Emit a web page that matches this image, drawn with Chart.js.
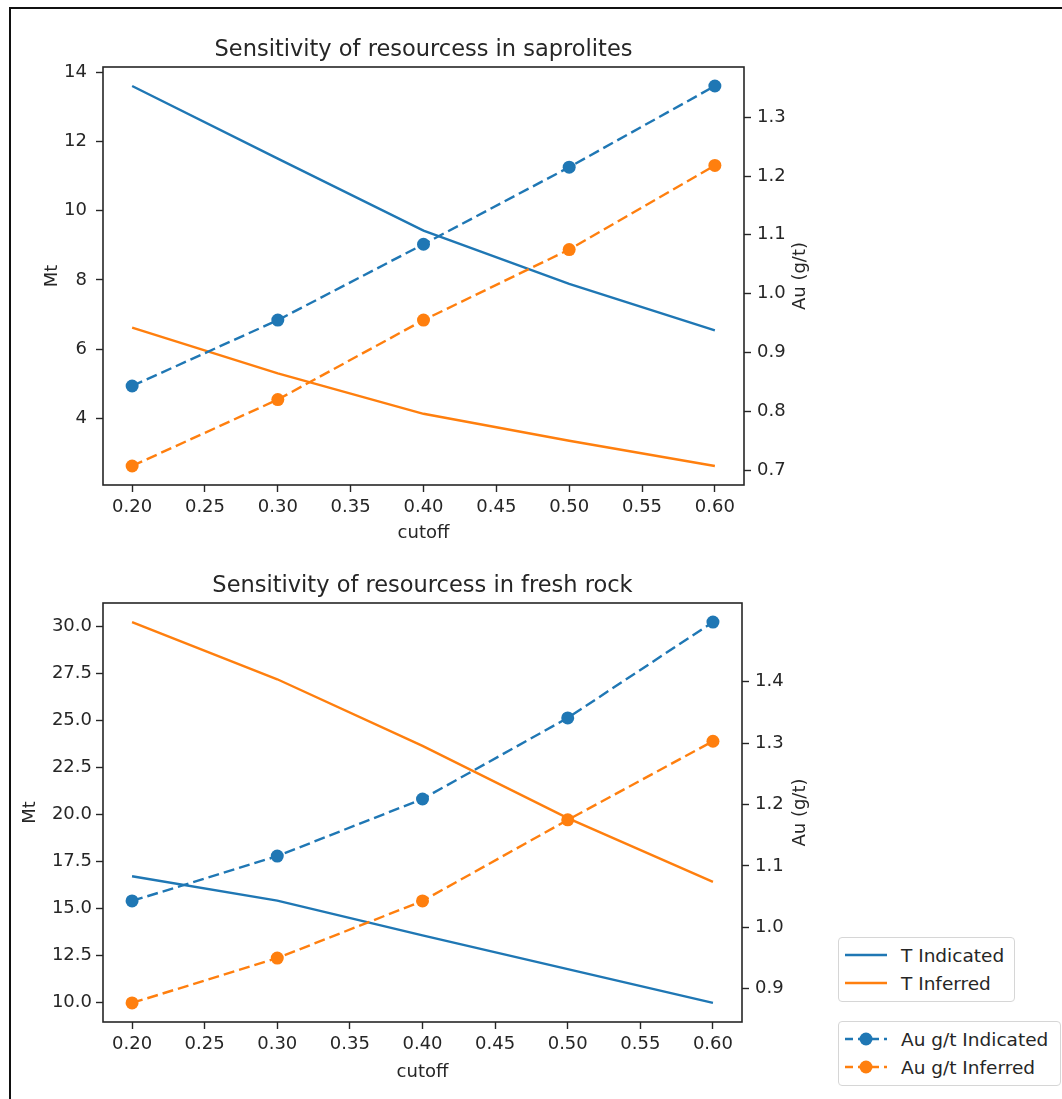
<!DOCTYPE html>
<html>
<head>
<meta charset="utf-8">
<title>Sensitivity of resources</title>
<script src="https://cdn.jsdelivr.net/npm/chart.js@4.4.0/dist/chart.umd.min.js"></script>
<style>
  body { margin: 0; background: #fff; }
  #page { position: relative; width: 1062px; height: 1099px; overflow: hidden; background: #fff; }
  #frame { position: absolute; left: 9px; top: 7px; width: 1200px; height: 1200px;
           border-left: 2px solid #111; border-top: 2px solid #111; }
  .panel { position: absolute; left: 0; }
  #top { top: 0; }
  #bottom { top: 545px; }
  .legend { position: absolute; background: #fff; border: 1px solid #d6d6d6; border-radius: 4px;
            font-family: 'DejaVu Sans', sans-serif; font-size: 18.5px; color: #262626; }
  .legend .row { position: absolute; left: 6px; height: 26px; display: flex; align-items: center; white-space: nowrap; }
  .legend svg { margin-right: 14px; }
</style>
</head>
<body>
<div id="page">
  <div id="frame"></div>
  <div class="panel" id="top"><canvas id="saproChart" width="1062" height="545"></canvas></div>
  <div class="panel" id="bottom"><canvas id="freshChart" width="1062" height="554"></canvas></div>
  <div class="legend" id="legendT" style="left:838px; top:937px; width:175px; height:63px;"></div>
  <div class="legend" id="legendAu" style="left:838px; top:1021px; width:221px; height:63px;"></div>
</div>
<script>
const cutoff = [0.20, 0.30, 0.40, 0.50, 0.60];

// saprolites: tonnage (Mt) and grade (g/t)
const saproTIndicated = [13.61, 11.51, 9.43, 7.89, 6.54];
const saproTInferred = [6.62, 5.30, 4.13, 3.35, 2.62];
const saproAuIndicated = [0.843, 0.955, 1.084, 1.215, 1.353];
const saproAuInferred = [0.707, 0.820, 0.955, 1.075, 1.218];

// fresh rock
const freshTIndicated = [16.70, 15.40, 13.55, 11.75, 9.95];
const freshTInferred = [30.25, 27.20, 23.65, 19.80, 16.40];
const freshAuIndicated = [1.043, 1.116, 1.209, 1.341, 1.497];
const freshAuInferred = [0.877, 0.950, 1.043, 1.175, 1.303];

const cutoffTicks = [0.20, 0.25, 0.30, 0.35, 0.40, 0.45, 0.50, 0.55, 0.60];
const saproMtTicks = [4, 6, 8, 10, 12, 14];
const saproAuTicks = [0.7, 0.8, 0.9, 1.0, 1.1, 1.2, 1.3];
const freshMtTicks = [10, 12.5, 15, 17.5, 20, 22.5, 25, 27.5, 30];
const freshAuTicks = [0.9, 1.0, 1.1, 1.2, 1.3, 1.4];

const FONT = "'DejaVu Sans', sans-serif";
const INK = '#262626';
const BLUE = '#1f77b4';
const ORANGE = '#ff7f0e';

// autoscale like matplotlib: data range plus 5% each side
function padRange(...arrays) {
  const all = [].concat(...arrays);
  const lo = Math.min(...all), hi = Math.max(...all);
  const m = (hi - lo) * 0.05;
  return { min: lo - m, max: hi + m };
}

function fixedTicks(values) {
  return axis => { axis.ticks = values.map(v => ({ value: v })); };
}

function points(ys) {
  return cutoff.map((x, i) => ({ x: x, y: ys[i] }));
}

// spines, title and axis labels
const panelText = {
  id: 'panelText',
  afterDatasetsDraw(chart, args, opts) {
    const ctx = chart.ctx, a = chart.chartArea;
    const cx = (a.left + a.right) / 2, cy = (a.top + a.bottom) / 2;
    ctx.save();
    ctx.strokeStyle = INK;
    ctx.lineWidth = 1.6;
    ctx.strokeRect(a.left, a.top, a.right - a.left, a.bottom - a.top);
    ctx.fillStyle = INK;
    ctx.textAlign = 'center';
    ctx.textBaseline = 'middle';
    ctx.font = '22.5px ' + FONT;
    ctx.fillText(opts.title, cx, a.top - opts.titleGap);
    ctx.font = '18px ' + FONT;
    ctx.fillText('cutoff', cx, a.bottom + opts.xGap);
    ctx.translate(opts.leftX, cy);
    ctx.rotate(-Math.PI / 2);
    ctx.fillText('Mt', 0, 0);
    ctx.restore();
    ctx.save();
    ctx.fillStyle = INK;
    ctx.textAlign = 'center';
    ctx.textBaseline = 'middle';
    ctx.font = '18px ' + FONT;
    ctx.translate(opts.rightX, cy);
    ctx.rotate(-Math.PI / 2);
    ctx.fillText('Au (g/t)', 0, 0);
    ctx.restore();
  }
};

function tonnageLine(label, data, color) {
  return {
    label: label, data: points(data), yAxisID: 'yT', order: 1,
    borderColor: color, backgroundColor: color, borderWidth: 2.4,
    pointRadius: 0, tension: 0, fill: false
  };
}

function gradeLine(label, data, color) {
  return {
    label: label, data: points(data), yAxisID: 'yAu', order: 0,
    borderColor: color, backgroundColor: color, borderWidth: 2.4, borderDash: [11, 5],
    pointRadius: 6.5, pointHoverRadius: 6.5, pointBorderWidth: 0, pointBackgroundColor: color,
    tension: 0, fill: false
  };
}

function axisStyle(tickValues, digits, pad, size) {
  return {
    afterBuildTicks: fixedTicks(tickValues),
    ticks: {
      autoSkip: false, maxRotation: 0, padding: pad, color: INK,
      font: { family: FONT, size: 18 },
      callback: v => Number(v).toFixed(digits)
    },
    grid: { drawOnChartArea: false, drawTicks: true, tickLength: 7, tickColor: INK, tickWidth: 1.4 },
    border: { display: false },
    afterFit: s => { if (s.isHorizontal()) s.height = size; else s.width = size; }
  };
}

function makePanel(canvasId, cfg) {
  const xr = padRange(cutoff);
  const tr = padRange(cfg.tA, cfg.tB);
  const ar = padRange(cfg.auA, cfg.auB);
  return new Chart(document.getElementById(canvasId), {
    type: 'line',
    data: {
      datasets: [
        tonnageLine('T Indicated', cfg.tA, BLUE),
        tonnageLine('T Inferred', cfg.tB, ORANGE),
        gradeLine('Au g/t Indicated', cfg.auA, BLUE),
        gradeLine('Au g/t Inferred', cfg.auB, ORANGE)
      ]
    },
    options: {
      responsive: false,
      animation: false,
      layout: { padding: cfg.padding },
      plugins: {
        legend: { display: false },
        title: { display: false },
        tooltip: { enabled: false },
        panelText: cfg.text
      },
      scales: {
        x: Object.assign({ type: 'linear', position: 'bottom', min: xr.min, max: xr.max },
          axisStyle(cutoffTicks, 2, 5, 60)),
        yT: Object.assign({ type: 'linear', position: 'left', min: tr.min, max: tr.max },
          axisStyle(cfg.tTicks, cfg.tDigits, cfg.tPad, 103)),
        yAu: Object.assign({ type: 'linear', position: 'right', min: ar.min, max: ar.max },
          axisStyle(cfg.auTicks, 1, 6, 60))
      }
    },
    plugins: [panelText]
  });
}

makePanel('saproChart', {
  tA: saproTIndicated, tB: saproTInferred, auA: saproAuIndicated, auB: saproAuInferred,
  tTicks: saproMtTicks, tDigits: 0, tPad: 9, auTicks: saproAuTicks,
  padding: { top: 67, left: 0, right: 258, bottom: 0 },
  text: { title: 'Sensitivity of resourcess in saprolites', titleGap: 17, xGap: 48, leftX: 52, rightX: 800 }
});

makePanel('freshChart', {
  tA: freshTIndicated, tB: freshTInferred, auA: freshAuIndicated, auB: freshAuInferred,
  tTicks: freshMtTicks, tDigits: 1, tPad: 4, auTicks: freshAuTicks,
  padding: { top: 58, left: 0, right: 260, bottom: 17 },
  text: { title: 'Sensitivity of resourcess in fresh rock', titleGap: 17, xGap: 50, leftX: 30, rightX: 800 }
});

// legends sit outside the lower axes, one box per axis
function legendSample(color, marker) {
  let svg = '<svg width="42" height="14" viewBox="0 0 42 14">';
  if (marker) {
    svg += '<line x1="0" y1="7" x2="42" y2="7" stroke="' + color + '" stroke-width="2.4" stroke-dasharray="8,5"/>';
    svg += '<circle cx="21" cy="7" r="6.5" fill="' + color + '"/>';
  } else {
    svg += '<line x1="0" y1="7" x2="42" y2="7" stroke="' + color + '" stroke-width="2.4"/>';
  }
  return svg + '</svg>';
}

function buildLegend(id, items, marker) {
  const box = document.getElementById(id);
  items.forEach((it, i) => {
    const row = document.createElement('div');
    row.className = 'row';
    row.style.top = (4 + i * 28) + 'px';
    row.innerHTML = legendSample(it.color, marker) + '<span>' + it.label + '</span>';
    box.appendChild(row);
  });
}

buildLegend('legendT', [{ label: 'T Indicated', color: BLUE }, { label: 'T Inferred', color: ORANGE }], false);
buildLegend('legendAu', [{ label: 'Au g/t Indicated', color: BLUE }, { label: 'Au g/t Inferred', color: ORANGE }], true);
</script>
</body>
</html>
